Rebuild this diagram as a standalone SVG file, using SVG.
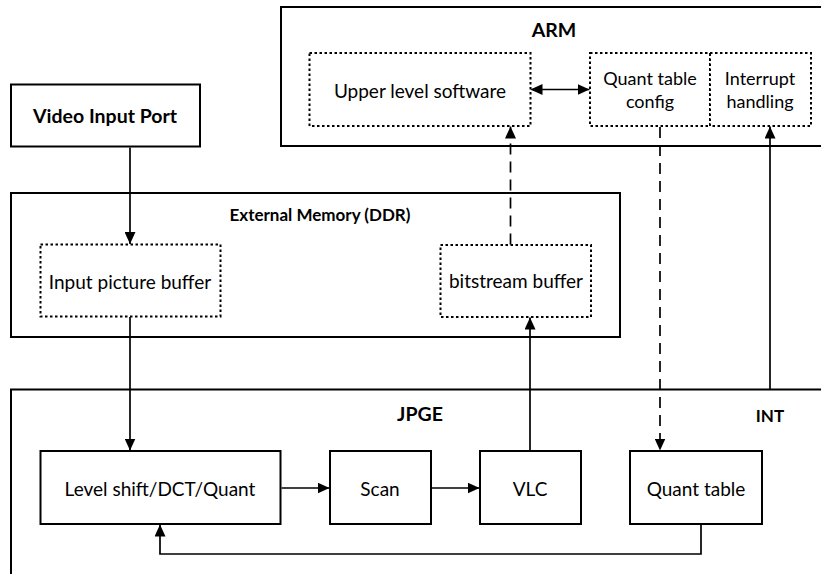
<svg xmlns="http://www.w3.org/2000/svg" width="821" height="574" viewBox="0 0 821 574">
<style>
  .box{fill:none;stroke:#000;stroke-width:2}
  .dot{fill:#fff;stroke:#000;stroke-width:2;stroke-dasharray:2.5,2.5}
  .t{font-family:Lato,"Open Sans","Liberation Sans",sans-serif;font-size:19px;fill:#000;text-anchor:middle;dominant-baseline:central}
  .s{font-size:18px}
  .b{font-weight:bold;font-size:19.5px}
  .bs{font-weight:bold;font-size:17px}
  .ln{fill:none;stroke:#000;stroke-width:1.7}
  .dash{stroke-dasharray:11,7}
</style>
<defs>
  <marker id="ah" markerWidth="13" markerHeight="11" refX="12" refY="5.5" orient="auto" markerUnits="userSpaceOnUse">
    <path d="M0,0 L12,5.5 L0,11 Z" fill="#000"/>
  </marker>
  <marker id="ahs" markerWidth="13" markerHeight="11" refX="1" refY="5.5" orient="auto" markerUnits="userSpaceOnUse">
    <path d="M12,0 L0,5.5 L12,11 Z" fill="#000"/>
  </marker>
</defs>

<g id="arm">
  <rect class="box" x="281" y="7" width="570" height="139"/>
  <text class="t b" x="554" y="29">ARM</text>
</g>
<g id="upper-level-software">
  <rect class="dot" x="309.5" y="53" width="221" height="73"/>
  <text class="t" x="420" y="90">Upper level software</text>
</g>
<g id="quant-table-config">
  <rect class="dot" x="590" y="53" width="120" height="73"/>
  <text class="t s" x="650" y="78">Quant table</text>
  <text class="t s" x="650" y="101">config</text>
</g>
<g id="interrupt-handling">
  <rect class="dot" x="710" y="53" width="101" height="73"/>
  <text class="t s" x="760" y="78">Interrupt</text>
  <text class="t s" x="760" y="101">handling</text>
</g>

<g id="video-input-port">
  <rect class="box" x="11" y="84.5" width="189" height="62"/>
  <text class="t b" x="105" y="115">Video Input Port</text>
</g>

<g id="external-memory">
  <rect class="box" x="11" y="193" width="609" height="144"/>
  <text class="t bs" x="320" y="214">External Memory (DDR)</text>
</g>
<g id="input-picture-buffer">
  <rect class="dot" x="40.5" y="244.5" width="180" height="72"/>
  <text class="t" x="130" y="281">Input picture buffer</text>
</g>
<g id="bitstream-buffer">
  <rect class="dot" x="440.5" y="245" width="150.5" height="72"/>
  <text class="t" x="516" y="280">bitstream buffer</text>
</g>

<g id="jpge">
  <rect class="box" x="11" y="389.5" width="840" height="220"/>
  <text class="t b" x="420" y="413">JPGE</text>
  <text class="t bs" x="770" y="415">INT</text>
</g>
<g id="level-shift">
  <rect class="box" x="40.5" y="451" width="240" height="73"/>
  <text class="t" x="160" y="488">Level shift/DCT/Quant</text>
</g>
<g id="scan">
  <rect class="box" x="330" y="451" width="101" height="73"/>
  <text class="t" x="380" y="488">Scan</text>
</g>
<g id="vlc">
  <rect class="box" x="480" y="451" width="101" height="73"/>
  <text class="t" x="530" y="488">VLC</text>
</g>
<g id="quant-table">
  <rect class="box" x="630" y="451" width="132" height="73"/>
  <text class="t" x="696" y="488">Quant table</text>
</g>

<g id="connectors">
  <line class="ln" x1="130" y1="147.5" x2="130" y2="244" marker-end="url(#ah)"/>
  <line class="ln" x1="130" y1="317" x2="130" y2="450.5" marker-end="url(#ah)"/>
  <line class="ln" x1="281.5" y1="488" x2="329.5" y2="488" marker-end="url(#ah)"/>
  <line class="ln" x1="432" y1="488" x2="479.5" y2="488" marker-end="url(#ah)"/>
  <line class="ln" x1="530" y1="450" x2="530" y2="317.5" marker-end="url(#ah)"/>
  <line class="ln dash" x1="510.5" y1="244.5" x2="510.5" y2="126.5" marker-end="url(#ah)"/>
  <line class="ln" x1="531.5" y1="89.5" x2="589.5" y2="89.5" marker-start="url(#ahs)" marker-end="url(#ah)"/>
  <line class="ln dash" x1="660" y1="127" x2="660" y2="450.5" marker-end="url(#ah)"/>
  <line class="ln" x1="770" y1="389" x2="770" y2="126.5" marker-end="url(#ah)"/>
  <polyline class="ln" points="701,525 701,554 160,554 160,524.5" marker-end="url(#ah)"/>
</g>
</svg>
